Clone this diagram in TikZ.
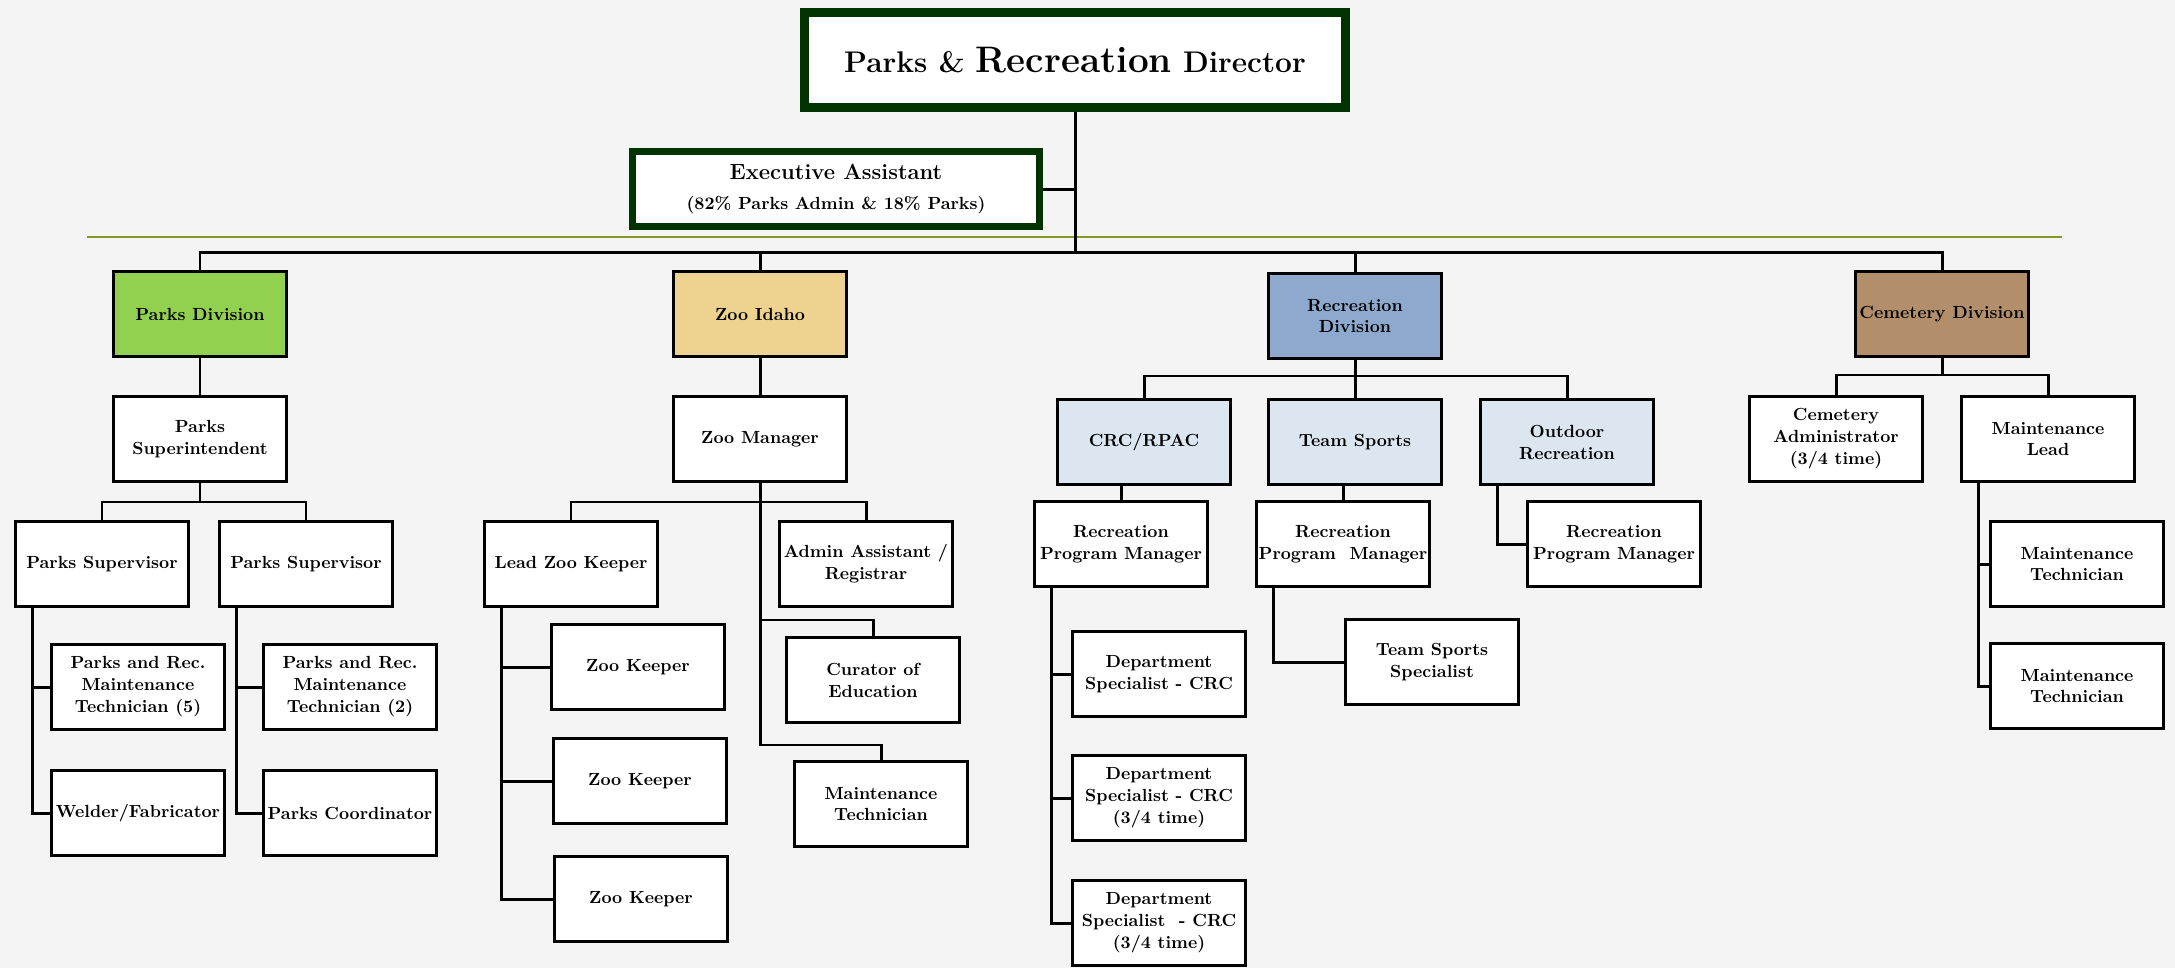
\documentclass[tikz,border=0pt]{standalone}

\definecolor{bgcol}{RGB}{244,244,244}
\definecolor{dirgreen}{RGB}{0,51,0}
\definecolor{rulegreen}{RGB}{134,152,44}
\definecolor{parksgreen}{RGB}{146,208,80}
\definecolor{zoosand}{RGB}{237,211,143}
\definecolor{recblue}{RGB}{141,170,206}
\definecolor{teamblue}{RGB}{220,230,241}
\definecolor{cembrown}{RGB}{179,142,106}

\tikzset{
  box/.style={draw=black, line width=1.7pt, fill=white, minimum width=3.46cm,
    minimum height=1.7cm, inner sep=1pt, align=center,
    font=\fontsize{10}{12.5}\selectfont\bfseries},
  link/.style={line width=1.7pt},
}

\begin{document}
\begin{tikzpicture}[x=0.02cm,y=-0.02cm]
            \useasboundingbox (0,0) rectangle (2175,968);
            \fill[bgcol] (0,0) rectangle (2175,968);

            % top of the chart
            \node[box, draw=dirgreen, line width=5pt, minimum width=10.82cm, minimum height=1.9cm] (dir) at (1075,60)
                {{\fontsize{17}{20}\selectfont Parks \& }{\fontsize{21}{24}\selectfont Recreation}{\fontsize{17}{20}\selectfont\ Director}};
            \node[box, draw=dirgreen, line width=4pt, minimum width=8.16cm, minimum height=1.5cm] (exec) at (836,189)
                {{\fontsize{12.5}{14}\selectfont Executive Assistant}\\[5pt]{\fontsize{10}{12}\selectfont (82\% Parks Admin \& 18\% Parks)}};
            \draw[rulegreen, line width=1.6pt] (87,237) -- (2062,237);
            \coordinate (bar) at (1075,252);

            % divisions
            \node[box, fill=parksgreen] (parks) at (200,314) {Parks Division};
            \node[box, fill=zoosand] (zoo) at (760,314) {Zoo Idaho};
            \node[box, fill=recblue] (rec) at (1355,316) {Recreation\\Division};
            \node[box, fill=cembrown] (cem) at (1942,314) {Cemetery Division};

            \draw[link] (dir) -- (bar);
            \draw[link] (exec) -- (exec -| dir);
            \draw[link] (parks) -- (parks |- bar) -- (cem |- bar) -- (cem);
            \draw[link] (zoo) -- (zoo |- bar);
            \draw[link] (rec) -- (rec |- bar);

            % parks
            \node[box] (psup) at (200,439) {Parks\\Superintendent};
            \node[box] (sup1) at (102,564) {Parks Supervisor};
            \node[box] (sup2) at (306,564) {Parks Supervisor};
            \node[box] (tech5) at (138,687) {Parks and Rec.\\Maintenance\\Technician (5)};
            \node[box] (weld) at (138,813) {Welder/Fabricator};
            \node[box] (tech2) at (350,687) {Parks and Rec.\\Maintenance\\Technician (2)};
            \node[box] (coord) at (350,813) {Parks Coordinator};

            \draw[link] (parks) -- (psup);
            \draw[link] (psup.south) -- ++(0,19) coordinate (pbar);
            \draw[link] (sup1) |- (pbar) -| (sup2);
            \draw[link] ([xshift=0.36cm]sup1.south west) coordinate (v1) |- (weld);
            \draw[link] (tech5) -- (tech5 -| v1);
            \draw[link] ([xshift=0.36cm]sup2.south west) coordinate (v2) |- (coord);
            \draw[link] (tech2) -- (tech2 -| v2);

            % zoo
            \node[box] (zmgr) at (760,439) {Zoo Manager};
            \node[box] (lzk) at (571,564) {Lead Zoo Keeper};
            \node[box] (admin) at (866,564) {Admin Assistant /\\Registrar};
            \node[box] (curator) at (873,680) {Curator of\\Education};
            \node[box] (zmtech) at (881,804) {Maintenance\\Technician};
            \node[box] (zk1) at (638,667) {Zoo Keeper};
            \node[box] (zk2) at (640,781) {Zoo Keeper};
            \node[box] (zk3) at (641,899) {Zoo Keeper};

            \draw[link] (zoo) -- (zmgr);
            \draw[link] (zmgr.south) -- ++(0,19) coordinate (zbar);
            \draw[link] (lzk) |- (zbar) -| (admin);
            \draw[link] (zmgr.south) -- ++(0,262) -| (zmtech);
            \draw[link] (zmgr.south) ++(0,137) -| (curator);
            \draw[link] ([xshift=0.36cm]lzk.south west) coordinate (v3) |- (zk3);
            \draw[link] (zk1) -- (zk1 -| v3);
            \draw[link] (zk2) -- (zk2 -| v3);

            % recreation
            \node[box, fill=teamblue] (crc) at (1144,442) {CRC/RPAC};
            \node[box, fill=teamblue] (team) at (1355,442) {Team Sports};
            \node[box, fill=teamblue] (outdoor) at (1567,442) {Outdoor\\Recreation};
            \node[box] (rpm1) at (1121,544) {Recreation\\Program Manager};
            \node[box] (rpm2) at (1343,544) {Recreation\\Program\ \ Manager};
            \node[box] (rpm3) at (1614,544) {Recreation\\Program Manager};
            \node[box] (tss) at (1432,662) {Team Sports\\Specialist};
            \node[box] (ds1) at (1159,674) {Department\\Specialist - CRC};
            \node[box] (ds2) at (1159,798) {Department\\Specialist - CRC\\(3/4 time)};
            \node[box] (ds3) at (1159,923) {Department\\Specialist\ \ - CRC\\(3/4 time)};

            \draw[link] (rec.south) -- ++(0,16) coordinate (rbar);
            \draw[link] (crc) |- (rbar) -| (outdoor);
            \draw[link] (team) -- (rbar);
            \draw[link] (rpm1) -- (rpm1 |- crc.south);
            \draw[link] (rpm2) -- (rpm2 |- team.south);
            \draw[link] ([xshift=0.36cm]outdoor.south west) |- (rpm3);
            \draw[link] ([xshift=0.36cm]rpm2.south west) |- (tss);
            \draw[link] ([xshift=0.36cm]rpm1.south west) coordinate (v5) |- (ds3);
            \draw[link] (ds1) -- (ds1 -| v5);
            \draw[link] (ds2) -- (ds2 -| v5);

            % cemetery
            \node[box] (cadmin) at (1836,439) {Cemetery\\Administrator\\(3/4 time)};
            \node[box] (mlead) at (2048,439) {Maintenance\\Lead};
            \node[box] (mt1) at (2077,564) {Maintenance\\Technician};
            \node[box] (mt2) at (2077,686) {Maintenance\\Technician};

            \draw[link] (cem.south) -- ++(0,17) coordinate (cbar);
            \draw[link] (cadmin) |- (cbar) -| (mlead);
            \draw[link] ([xshift=0.36cm]mlead.south west) coordinate (v6) |- (mt2);
            \draw[link] (mt1) -- (mt1 -| v6);

        \end{tikzpicture}
\end{document}
